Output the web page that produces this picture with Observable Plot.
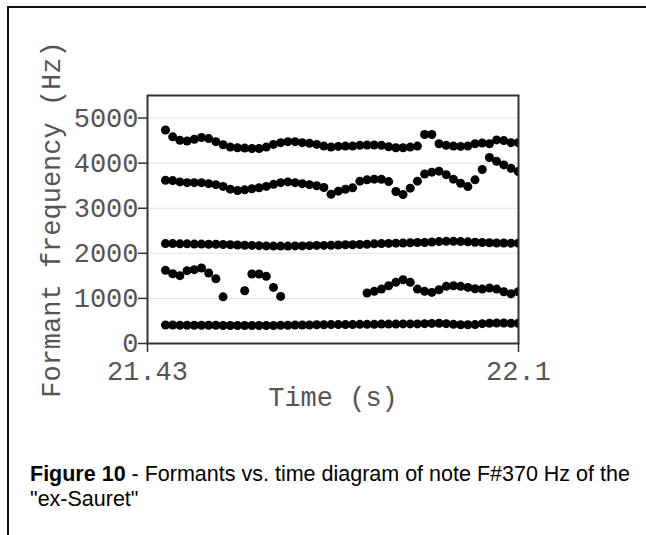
<!DOCTYPE html>
<html>
<head>
<meta charset="utf-8">
<script src="https://cdn.jsdelivr.net/npm/d3@7"></script>
<script src="https://cdn.jsdelivr.net/npm/@observablehq/plot@0.6"></script>
<style>
  html, body { margin: 0; padding: 0; background: #fff; width: 646px; height: 535px; overflow: hidden; }
  #box { position: absolute; left: 7px; top: 6px; width: 700px; height: 600px; border-left: 2px solid #111; border-top: 2px solid #111; }
  #chart { position: absolute; left: 0; top: 0; }
  #caption { position: absolute; left: 30px; top: 462px; font-family: "Liberation Sans", Arial, sans-serif; font-size: 21.5px; line-height: 25px; color: #000; white-space: nowrap; }
</style>
</head>
<body>
<div id="box"></div>
<div id="chart"></div>
<div id="caption"><b>Figure 10</b> - Formants vs. time diagram of note F#370 Hz of the<br>"ex-Sauret"</div>
<script>
// Time stamps of the analysis frames (s)
const times = [21.4625, 21.4755, 21.4885, 21.5015, 21.5145, 21.5275, 21.5405, 21.5535, 21.5665, 21.5795,
  21.5925, 21.6055, 21.6185, 21.6315, 21.6445, 21.6575, 21.6705, 21.6835, 21.6965, 21.7095,
  21.7225, 21.7355, 21.7485, 21.7615, 21.7745, 21.7875, 21.8005, 21.8135, 21.8265, 21.8395,
  21.8525, 21.8655, 21.8785, 21.8915, 21.9045, 21.9175, 21.9305, 21.9435, 21.9565, 21.9695,
  21.9825, 21.9955, 22.0085, 22.0215, 22.0345, 22.0475, 22.0605, 22.0735, 22.0865, 22.0995];

// Formant frequencies (Hz); null = no value
const F1 = [410, 410, 405, 405, 405, 405, 405, 405, 400, 400,
  400, 400, 400, 400, 400, 400, 405, 405, 410, 410,
  410, 415, 415, 420, 420, 420, 420, 425, 425, 425,
  430, 430, 430, 435, 435, 435, 440, 445, 450, 440,
  425, 415, 415, 420, 440, 450, 455, 455, 450, 450];
const F2 = [1622, 1548, 1504, 1615, 1637, 1674, 1563, 1437, 1035, null,
  null, 1170, 1541, 1541, 1489, 1244, 1044, null, null, null,
  null, null, null, null, null, null, null, null, 1119, 1156,
  1207, 1281, 1356, 1415, 1356, 1207, 1156, 1133, 1193, 1267,
  1281, 1267, 1244, 1215, 1207, 1230, 1207, 1148, 1104, 1148];
const F3 = [2215, 2215, 2210, 2210, 2205, 2205, 2200, 2200, 2195, 2190,
  2185, 2180, 2175, 2170, 2165, 2160, 2160, 2160, 2165, 2165,
  2170, 2175, 2175, 2180, 2185, 2190, 2190, 2195, 2200, 2210,
  2215, 2220, 2225, 2230, 2235, 2240, 2240, 2250, 2260, 2265,
  2265, 2260, 2255, 2245, 2240, 2235, 2230, 2230, 2225, 2225];
const F4 = [3620, 3613, 3583, 3567, 3567, 3567, 3545, 3522, 3484, 3423,
  3393, 3408, 3431, 3454, 3484, 3530, 3567, 3583, 3567, 3545,
  3522, 3499, 3460, 3310, 3378, 3420, 3452, 3600, 3630, 3645,
  3640, 3590, 3370, 3305, 3445, 3600, 3760, 3800, 3822, 3745,
  3645, 3555, 3480, 3630, 3860, 4125, 4040, 3960, 3885, 3815];
const F5 = [4735, 4583, 4507, 4492, 4530, 4568, 4545, 4477, 4409, 4356,
  4341, 4333, 4325, 4325, 4356, 4416, 4454, 4477, 4477, 4454,
  4439, 4416, 4378, 4356, 4371, 4378, 4378, 4394, 4401, 4401,
  4394, 4363, 4341, 4341, 4356, 4378, 4636, 4636, 4431, 4394,
  4378, 4371, 4378, 4431, 4446, 4431, 4515, 4500, 4454, 4454];

const yTicks = [0, 1000, 2000, 3000, 4000, 5000];
const xTicks = [21.43, 22.1];
const xTickLabels = ["21.43", "22.1"];
const xLabel = "Time (s)";
const yLabel = "Formant frequency (Hz)";

const series = [["F1", F1], ["F2", F2], ["F3", F3], ["F4", F4], ["F5", F5]];
const points = [];
for (const [name, vals] of series) {
  vals.forEach((v, i) => { if (v != null) points.push({formant: name, t: times[i], f: v}); });
}

const mono = "'Liberation Mono', 'Courier New', monospace";
const textColor = "#555";

const chart = Plot.plot({
  width: 646,
  height: 420,
  marginLeft: 147,
  marginRight: 128,
  marginTop: 95,
  marginBottom: 77,
  style: {background: "transparent", fontFamily: mono},
  x: {domain: [21.43, 22.1]},
  y: {domain: [0, 5500]},
  marks: [
    Plot.gridY(yTicks.filter(d => d > 0), {stroke: "#e4e4e4", strokeOpacity: 1, strokeWidth: 1}),
    Plot.dot(points, {x: "t", y: "f", r: 4.5, fill: "#000", stroke: "none", clip: true}),
    Plot.frame({stroke: "#333", strokeWidth: 2}),
    Plot.axisY({ticks: yTicks, tickFormat: d => String(d), tickSize: 9, tickPadding: 0, stroke: "#333", strokeWidth: 1.5,
      fill: textColor, fontSize: 27, fontFamily: mono, label: null}),
    Plot.axisX({ticks: xTicks, tickFormat: (d, i) => xTickLabels[i], tickSize: 9, tickPadding: 8, stroke: "#333", strokeWidth: 1.5,
      fill: textColor, fontSize: 27, fontFamily: mono, label: null}),
    Plot.text([xLabel], {frameAnchor: "bottom", dy: 62, text: d => d, textAnchor: "middle", fill: textColor, fontSize: 27, fontFamily: mono}),
    Plot.text([yLabel], {frameAnchor: "left", dx: -96, rotate: -90, text: d => d, textAnchor: "middle", fill: textColor, fontSize: 27, fontFamily: mono})
  ]
});
document.getElementById("chart").appendChild(chart);
</script>
</body>
</html>
